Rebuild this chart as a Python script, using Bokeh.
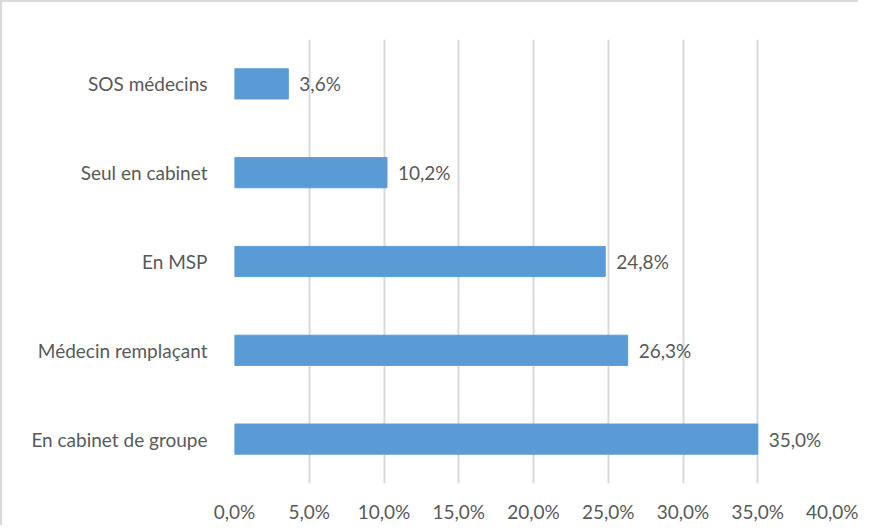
from bokeh.plotting import figure
from bokeh.models import FactorRange, Range1d, FixedTicker, CustomJSTickFormatter, ColumnDataSource
from bokeh.core.properties import value
from bokeh.embed import file_html
from bokeh.resources import INLINE

categories = ["En cabinet de groupe", "Médecin remplaçant", "En MSP", "Seul en cabinet", "SOS médecins"]
values = [35.0, 26.3, 24.8, 10.2, 3.6]
labels = ["35,0%", "26,3%", "24,8%", "10,2%", "3,6%"]
x_ticks = [0, 5, 10, 15, 20, 25, 30, 35, 40]

FONT = "Lato"
TXT = "#595959"
GRID = "#d9d9d9"
FS = "19px"

source = ColumnDataSource(dict(cat=categories, val=values, lab=labels))

p = figure(frame_width=598, frame_height=444, y_range=FactorRange(*categories, range_padding=0),
           x_range=Range1d(0, 40), output_backend="svg", toolbar_location=None,
           min_border_left=232, min_border_right=26, min_border_top=37, min_border_bottom=33)
p.styles = {"border-top": "2px solid #d9d9d9", "border-left": "2px solid #d9d9d9"}
p.outline_line_color = None

p.hbar(y="cat", right="val", left=0, height=0.34, source=source, color="#5B9BD5")
p.text(x="val", y="cat", text="lab", source=source, x_offset=11, text_baseline="middle",
       text_align="left", text_color=TXT, text_font=value(FONT), text_font_size=FS)

p.xaxis.ticker = FixedTicker(ticks=x_ticks)
p.xaxis.formatter = CustomJSTickFormatter(code="return tick.toFixed(1).replace('.', ',') + '%';")
p.xaxis.axis_line_color = None
p.xaxis.major_tick_line_color = None
p.xaxis.minor_tick_line_color = None
p.xaxis.major_label_standoff = 10
p.xaxis.major_label_text_font = FONT
p.xaxis.major_label_text_font_size = FS
p.xaxis.major_label_text_color = TXT

p.yaxis.axis_line_color = None
p.yaxis.major_tick_line_color = None
p.yaxis.minor_tick_line_color = None
p.yaxis.major_label_standoff = 21
p.yaxis.major_label_text_font = FONT
p.yaxis.major_label_text_font_size = FS
p.yaxis.major_label_text_color = TXT

p.xgrid.grid_line_color = GRID
p.xgrid.grid_line_width = 2
p.ygrid.grid_line_color = None

open("out.html", "w").write(file_html(p, INLINE))
